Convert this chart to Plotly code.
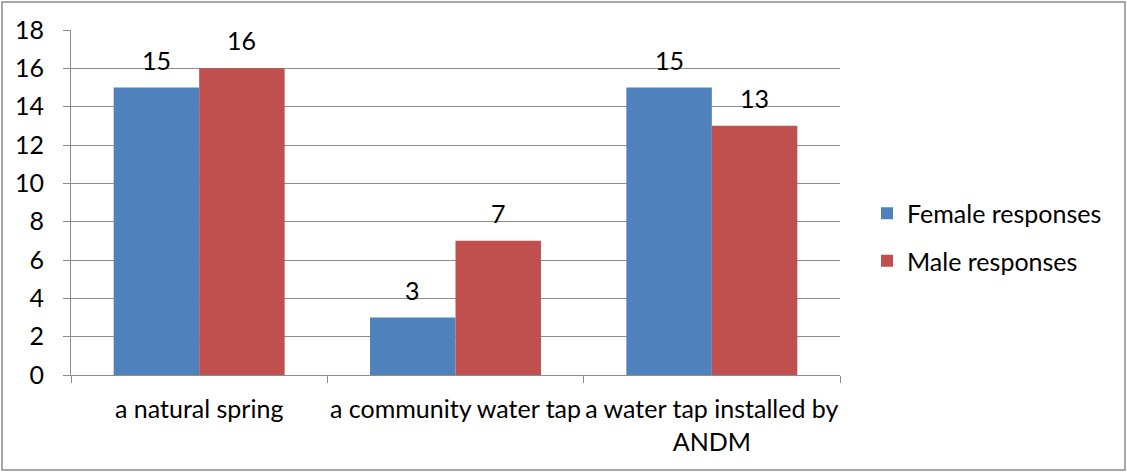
import plotly.graph_objects as go

categories = ["a natural spring", "a community water tap", "a water tap installed by<br>ANDM"]
female = [15, 3, 15]
male = [16, 7, 13]
series_names = ["Female responses", "Male responses"]
colors = ["#4F81BD", "#C0504D"]
y_ticks = list(range(0, 19, 2))

W, H = 1127, 472
ML, MR, MT, MB = 71, 287, 30, 97
BARGAP = 0.333
FONT = "Lato"
FS = 25

fig = go.Figure()
for name, vals, col in zip(series_names, [female, male], colors):
    fig.add_trace(go.Bar(
        x=categories, y=vals, name=name, marker=dict(color=col, line=dict(width=0)),
        legendgroup=name,
    ))

plot_w = W - ML - MR
plot_h = H - MT - MB
cat_w = plot_w / len(categories)
bar_w = cat_w * (1 - BARGAP) / 2
for i, vals in enumerate([female, male]):
    sign = -1 if i == 0 else 1
    for c, v in zip(categories, vals):
        fig.add_annotation(x=c, y=v, xref="x", yref="y", text=str(v), showarrow=False,
                           xshift=sign * bar_w / 2, yshift=28, yanchor="middle",
                           font=dict(family=FONT, size=FS, color="black"))

fig.update_layout(
    width=W, height=H,
    margin=dict(l=ML, r=MR, t=MT, b=MB, autoexpand=False),
    barmode="group", bargap=BARGAP, bargroupgap=0,
    plot_bgcolor="white", paper_bgcolor="white",
    font=dict(family=FONT, size=FS, color="black"),
    showlegend=True,
    legend=dict(x=1.0 + 27 / plot_w, xanchor="left", y=0.4, yanchor="middle",
                traceorder="grouped", tracegroupgap=12,
                font=dict(family=FONT, size=FS, color="black"),
                itemwidth=30, bgcolor="rgba(0,0,0,0)"),
    shapes=[dict(type="rect", xref="paper", yref="paper",
                 x0=-(ML - 2) / plot_w, x1=1 + (MR - 2) / plot_w,
                 y0=-(MB - 2) / plot_h, y1=1 + (MT - 2) / plot_h,
                 line=dict(color="#8C8C8C", width=1.5), fillcolor="rgba(0,0,0,0)", layer="below")],
)
fig.update_yaxes(range=[0, 18], tickvals=y_ticks, showgrid=True, gridcolor="#8C8C8C", gridwidth=1,
                 showline=True, linecolor="#8C8C8C", linewidth=1, ticks="outside", ticklen=7,
                 tickcolor="#8C8C8C", zeroline=False, tickfont=dict(size=FS), automargin=False,
                 ticklabelstandoff=14)
fig.update_xaxes(showline=True, linecolor="#8C8C8C", linewidth=1, ticks="outside", ticklen=7,
                 tickcolor="#8C8C8C", tickson="boundaries", showgrid=False, tickfont=dict(size=FS),
                 automargin=False, ticklabelstandoff=12, tickangle=0)

fig.write_html("out.html", config={"displayModeBar": False},
               post_script="document.body.style.margin='0';document.body.style.overflow='hidden';")
